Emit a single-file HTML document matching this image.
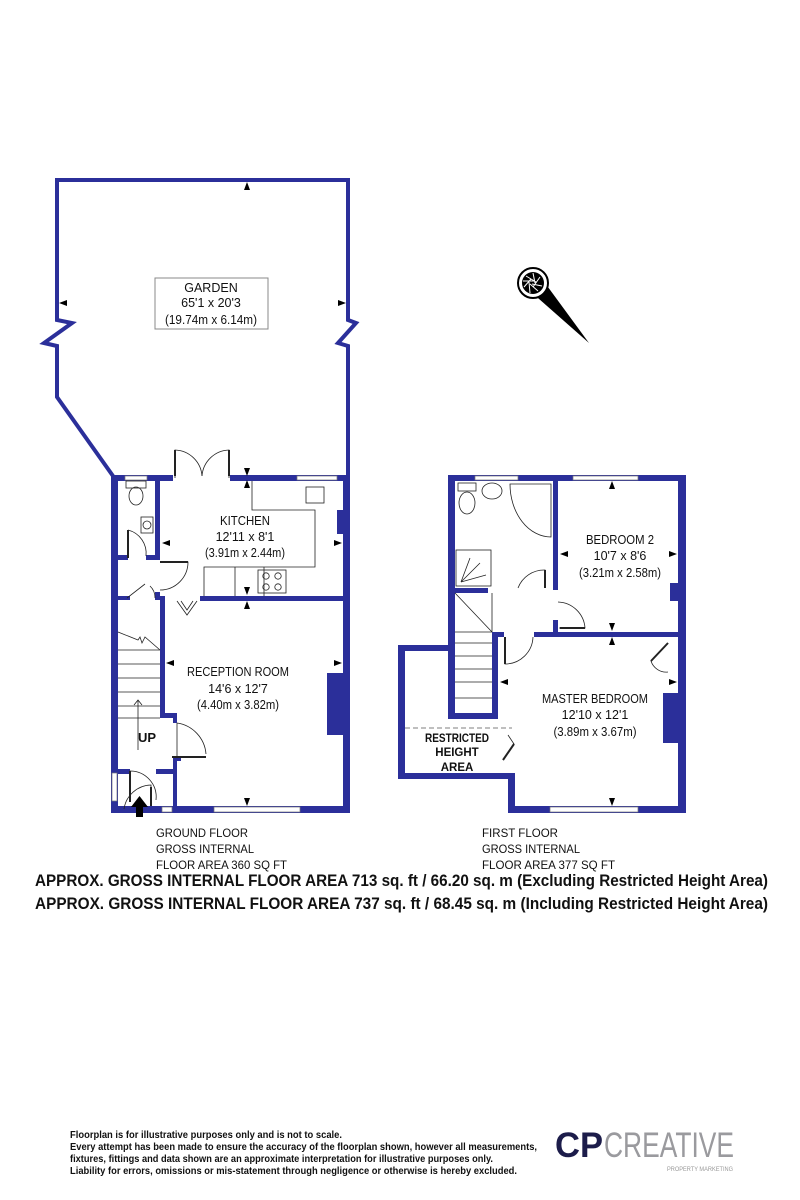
<!DOCTYPE html>
<html><head><meta charset="utf-8"><style>
html,body{margin:0;padding:0;background:#fff;}
svg{display:block;}
text{font-family:"Liberation Sans Narrow","Liberation Sans",sans-serif;fill:#111;}
</style></head><body>
<svg width="800" height="1200" viewBox="0 0 800 1200" xmlns="http://www.w3.org/2000/svg">
<g fill="#2b2f9a" stroke="none">
<!-- GROUND FLOOR walls -->
<rect x="111" y="475" width="7" height="338"/>
<rect x="111" y="475" width="62" height="6"/>
<rect x="230" y="475" width="120" height="6"/>
<rect x="343" y="475" width="7" height="338"/>
<rect x="111" y="806" width="239" height="7"/>
<rect x="155" y="478" width="5" height="82"/>
<rect x="118" y="555" width="10" height="5"/>
<rect x="146" y="555" width="14" height="5"/>
<rect x="200" y="596" width="143" height="5"/>
<rect x="118" y="596" width="12" height="4"/>
<rect x="155" y="592" width="5" height="8"/>
<rect x="160" y="596" width="5" height="122"/>
<rect x="160" y="713" width="17" height="5"/>
<rect x="173" y="713" width="4" height="10"/>
<rect x="173" y="756" width="4" height="52"/>
<rect x="173" y="756" width="8" height="5"/>
<rect x="118" y="769" width="12" height="5"/>
<rect x="156" y="769" width="21" height="5"/>
<rect x="327" y="673" width="16" height="62"/>
<rect x="337" y="510" width="7" height="24"/>
<!-- FIRST FLOOR walls -->
<rect x="448" y="475" width="238" height="6"/>
<rect x="448" y="475" width="7" height="244"/>
<rect x="678" y="475" width="8" height="338"/>
<rect x="398" y="645" width="57" height="6"/>
<rect x="398" y="645" width="7" height="134"/>
<rect x="398" y="773" width="117" height="6"/>
<rect x="508" y="773" width="7" height="40"/>
<rect x="508" y="806" width="178" height="7"/>
<rect x="553" y="478" width="5" height="112"/>
<rect x="455" y="588" width="33" height="5"/>
<rect x="553" y="620" width="5" height="14"/>
<rect x="492" y="632" width="12" height="5"/>
<rect x="534" y="632" width="152" height="5"/>
<rect x="492" y="632" width="6" height="87"/>
<rect x="455" y="713" width="43" height="6"/>
<rect x="663" y="693" width="15" height="50"/>
<rect x="670" y="583" width="8" height="18"/>
</g>
<!-- windows -->
<g fill="#fff" stroke="#777" stroke-width="0.7">
<rect x="125" y="476" width="22" height="4"/>
<rect x="297" y="476" width="40" height="4"/>
<rect x="214" y="807" width="86" height="5"/>
<rect x="475" y="476" width="43" height="4"/>
<rect x="573" y="476" width="65" height="4"/>
<rect x="550" y="807" width="88" height="5"/>
<rect x="112" y="773" width="5" height="28"/>
<rect x="162" y="807" width="10" height="5"/>
</g>
<!-- garden outline -->
<path d="M113,476 L57,397 L57,346 L44,343 L72,323 L57,320 L57,180 L348,180 L348,320 L356,323 L338,343 L348,346 L348,476" fill="none" stroke="#2b2f9a" stroke-width="4"/>
<!-- door swings, fixtures -->
<g fill="none" stroke="#222" stroke-width="0.8">
<path d="M175,478 L175,450 A28,28 0 0 1 202,476"/>
<path d="M229,478 L229,450 A28,28 0 0 0 202,476"/>
<path d="M160,562 L188,562 A28,28 0 0 1 160,590"/>
<path d="M128,530 A24,24 0 0 1 146,556"/>
<path d="M128,558 L128,530"/>
<path d="M127,598 L145,584 M150,586 A16,16 0 0 1 155,598"/>
<path d="M177,601 L187,615 L197,601"/>
<path d="M181,601 L187,610 L193,601"/>
<path d="M177,723 L177,757 M177,723 A34,34 0 0 1 206,754"/>
<path d="M130,783 L130,771 A26,26 0 0 1 156,800"/>
<path d="M124,809 A28,28 0 0 1 151,785 L151,806"/>
<path d="M252,481 L252,510 L315,510 L315,567 L204,567 L204,596 M235,567 L235,596 M264,567 L264,596"/>
<rect x="306" y="487" width="18" height="16"/>
<rect x="258" y="570" width="28" height="23"/>
<circle cx="266" cy="576" r="3.2"/><circle cx="278" cy="576" r="3.2"/><circle cx="266" cy="587" r="3.2"/><circle cx="278" cy="587" r="3.2"/>
<rect x="126" y="481" width="20" height="7"/><ellipse cx="136" cy="496" rx="7" ry="9"/>
<rect x="141" y="517" width="12" height="16"/><circle cx="147" cy="525" r="4"/>
<path d="M118,632 L138,640 L140,637 L142,643 L145,637 L160,650 M118,650 L160,650 M118,664 L160,664 M118,678 L160,678 M118,692 L160,692 M118,706 L160,706 M118,718 L160,718"/>
<path d="M138,750 L138,700 M134,705 L138,700 L142,705"/>
<!-- first floor fixtures -->
<rect x="458" y="483" width="18" height="8"/><ellipse cx="467" cy="503" rx="8" ry="11"/>
<ellipse cx="492" cy="491" rx="10" ry="8"/>
<path d="M510,484 L551,484 L551,537 A41,53 0 0 1 510,484 Z"/>
<rect x="456" y="550" width="35" height="36"/>
<path d="M461,582 L470,558 M461,582 L480,563 M461,582 L486,575"/>
<path d="M518,588 A28,28 0 0 1 545,570 L545,587"/>
<path d="M558,602 A28,28 0 0 1 585,628 L559,628"/>
<path d="M455,593 L492,632 M492,593 L492,632 M455,632 L492,632 M455,643 L492,643 M455,656 L492,656 M455,669 L492,669 M455,682 L492,682 M455,698 L492,698"/>
<path d="M505,637 L505,664 A28,28 0 0 0 533,637"/>
<path d="M668,643 L651,661 A16,16 0 0 0 668,672"/>
<path d="M508,735 L514,744 L503,760"/>
<path d="M405,728 L512,728" stroke-dasharray="5,3" stroke="#555"/>
</g>
<g stroke="#222" stroke-width="2" fill="none">
<path d="M130,802 L130,771 M151,787 L151,806 M128,530 L128,558 M505,637 L505,664 M545,570 L545,588 M585,628 L560,628 M172,757 L206,757 M668,643 L651,661 M514,744 L503,760 M175,450 L175,476 M229,450 L229,476 M160,562 L188,562"/>
</g>
<path d="M136,807 L136,817 L143,817 L143,807 L148,807 L139.5,796 L131,807 Z" fill="#000"/>
<!-- grey box garden -->
<rect x="155" y="278" width="113" height="51" fill="none" stroke="#888" stroke-width="1"/>
<!-- dimension arrows -->
<g fill="#000">
<path d="M247,182 l-3,8 h6 z"/><path d="M247,476 l-3,-8 h6 z"/><path d="M247,480 l-3,8 h6 z"/>
<path d="M59,303 l8,-3 v6 z"/><path d="M346,303 l-8,-3 v6 z"/>
<path d="M162,543 l8,-3 v6 z"/><path d="M342,543 l-8,-3 v6 z"/>
<path d="M247,595 l-3,-8 h6 z"/><path d="M247,601 l-3,8 h6 z"/>
<path d="M166,663 l8,-3 v6 z"/><path d="M342,663 l-8,-3 v6 z"/>
<path d="M247,806 l-3,-8 h6 z"/>
<path d="M612,481 l-3,8 h6 z"/><path d="M560,554 l8,-3 v6 z"/><path d="M677,554 l-8,-3 v6 z"/>
<path d="M612,631 l-3,-8 h6 z"/><path d="M612,637 l-3,8 h6 z"/>
<path d="M500,682 l8,-3 v6 z"/><path d="M677,682 l-8,-3 v6 z"/>
<path d="M612,806 l-3,-8 h6 z"/>
</g>
<!-- compass -->
<path d="M530,291 L545,283 L589,343 Z" fill="#000"/>
<circle cx="533" cy="283" r="15" fill="#fff" stroke="#000" stroke-width="2"/>
<circle cx="533" cy="283" r="11" fill="#000"/>
<g stroke="#fff" stroke-width="1"><path d="M526,276 L536,282 M540,277 L533,287 M538,291 L530,284 M524,287 L531,279 M533,273 L535,283 M542,286 L532,284 M530,293 L529,282 M523,281 L534,281"/></g>
<!-- labels -->
<g font-size="12.5" text-anchor="middle">
<text x="211" y="292">GARDEN</text>
<text x="211" y="307">65'1 x 20'3</text>
<text x="211" y="324" textLength="92" lengthAdjust="spacingAndGlyphs">(19.74m x 6.14m)</text>
<text x="245" y="525" textLength="50" lengthAdjust="spacingAndGlyphs">KITCHEN</text>
<text x="245" y="541">12'11 x 8'1</text>
<text x="245" y="557" textLength="80" lengthAdjust="spacingAndGlyphs">(3.91m x 2.44m)</text>
<text x="238" y="676" textLength="102" lengthAdjust="spacingAndGlyphs">RECEPTION ROOM</text>
<text x="238" y="693">14'6 x 12'7</text>
<text x="238" y="709" textLength="82" lengthAdjust="spacingAndGlyphs">(4.40m x 3.82m)</text>
<text x="620" y="544" textLength="68" lengthAdjust="spacingAndGlyphs">BEDROOM 2</text>
<text x="620" y="560">10'7 x 8'6</text>
<text x="620" y="577" textLength="82" lengthAdjust="spacingAndGlyphs">(3.21m x 2.58m)</text>
<text x="595" y="703" textLength="106" lengthAdjust="spacingAndGlyphs">MASTER BEDROOM</text>
<text x="595" y="719">12'10 x 12'1</text>
<text x="595" y="736" textLength="83" lengthAdjust="spacingAndGlyphs">(3.89m x 3.67m)</text>
</g>
<g font-size="11.5" font-weight="bold" text-anchor="middle">
<text x="457" y="742" textLength="64" lengthAdjust="spacingAndGlyphs">RESTRICTED</text>
<text x="457" y="756">HEIGHT</text>
<text x="457" y="771">AREA</text>
<text x="147" y="742" font-size="13">UP</text>
</g>
<g font-size="12">
<text x="156" y="837" textLength="92" lengthAdjust="spacingAndGlyphs">GROUND FLOOR</text>
<text x="156" y="853" textLength="98" lengthAdjust="spacingAndGlyphs">GROSS INTERNAL</text>
<text x="156" y="869" textLength="131" lengthAdjust="spacingAndGlyphs">FLOOR AREA 360 SQ FT</text>
<text x="482" y="837" textLength="76" lengthAdjust="spacingAndGlyphs">FIRST FLOOR</text>
<text x="482" y="853" textLength="98" lengthAdjust="spacingAndGlyphs">GROSS INTERNAL</text>
<text x="482" y="869" textLength="133" lengthAdjust="spacingAndGlyphs">FLOOR AREA 377 SQ FT</text>
</g>
<g font-size="17" font-weight="bold">
<text x="35" y="886" textLength="733" lengthAdjust="spacingAndGlyphs">APPROX. GROSS INTERNAL FLOOR AREA 713 sq. ft / 66.20 sq. m (Excluding Restricted Height Area)</text>
<text x="35" y="909" textLength="733" lengthAdjust="spacingAndGlyphs">APPROX. GROSS INTERNAL FLOOR AREA 737 sq. ft / 68.45 sq. m (Including Restricted Height Area)</text>
</g>
<g font-size="10.5" font-weight="bold">
<text x="70" y="1138" textLength="272" lengthAdjust="spacingAndGlyphs">Floorplan is for illustrative purposes only and is not to scale.</text>
<text x="70" y="1150" textLength="467" lengthAdjust="spacingAndGlyphs">Every attempt has been made to ensure the accuracy of the floorplan shown, however all measurements,</text>
<text x="70" y="1162" textLength="423" lengthAdjust="spacingAndGlyphs">fixtures, fittings and data shown are an approximate interpretation for illustrative purposes only.</text>
<text x="70" y="1174" textLength="447" lengthAdjust="spacingAndGlyphs">Liability for errors, omissions or mis-statement through negligence or otherwise is hereby excluded.</text>
</g>
<text x="555" y="1157" font-size="35" font-weight="bold" style="fill:#1c1c4a" textLength="48" lengthAdjust="spacingAndGlyphs">CP</text>
<text x="604" y="1157" font-size="35" style="fill:#9a9a9e" textLength="130" lengthAdjust="spacingAndGlyphs">CREATIVE</text>
<text x="667" y="1171" font-size="6" style="fill:#999" textLength="66" lengthAdjust="spacingAndGlyphs">PROPERTY MARKETING</text>
</svg>
</body></html>
